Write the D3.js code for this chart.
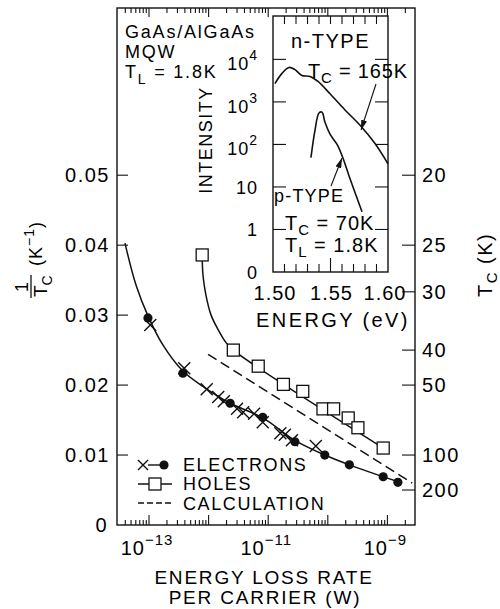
<!DOCTYPE html>
<html>
<head>
<meta charset="utf-8">
<script src="https://cdn.jsdelivr.net/npm/d3@7"></script>
<style>
  body { margin: 0; background: #fff; }
  text { font-family: "Liberation Sans", Arial, sans-serif; fill: #000; }
</style>
</head>
<body>
<div id="chart"></div>
<script>
// ---- data ----
// electrons: filled circles
var elecDotRate = [9.6e-14, 3.7e-13, 2.3e-12, 8.1e-12, 2.8e-11, 8.9e-11, 2.3e-10, 8.5e-10, 1.5e-9];
var elecDotInvT = [0.0296, 0.0217, 0.0174, 0.0154, 0.0119, 0.0100, 0.0086, 0.0069, 0.0061];
// electrons: crosses
var elecXRate = [1.05e-13, 3.9e-13, 9.3e-13, 1.45e-12, 1.8e-12, 3.0e-12, 3.8e-12, 5.8e-12, 8.1e-12, 1.6e-11, 1.9e-11, 2.5e-11, 6.3e-11];
var elecXInvT = [0.0286, 0.0224, 0.0194, 0.0183, 0.0177, 0.0166, 0.0161, 0.0159, 0.0147, 0.0131, 0.0129, 0.0121, 0.0113];
// electrons: fitted curve
var elecFitRate = [3.95e-14, 6.05e-14, 9.6e-14, 1.72e-13, 3.7e-13, 8.7e-13, 2.3e-12, 8.1e-12, 2.8e-11, 8.9e-11, 2.3e-10, 8.5e-10, 1.62e-9];
var elecFitInvT = [0.0403, 0.0343, 0.0299, 0.0257, 0.0220, 0.0196, 0.0174, 0.0153, 0.0121, 0.0100, 0.0086, 0.0069, 0.0061];
// holes: open squares
var holeRate = [7.8e-13, 2.6e-12, 6.8e-12, 1.8e-11, 3.8e-11, 8.3e-11, 1.25e-10, 2.2e-10, 3.2e-10, 8.5e-10];
var holeInvT = [0.0386, 0.0250, 0.0227, 0.0201, 0.0191, 0.0166, 0.0166, 0.0153, 0.0139, 0.0110];
// holes: fitted curve
var holeFitRate = [7.8e-13, 8.05e-13, 9.0e-13, 1.1e-12, 1.45e-12, 1.95e-12, 2.6e-12, 8.5e-10];
var holeFitInvT = [0.0386, 0.0357, 0.0329, 0.0300, 0.0279, 0.0261, 0.0250, 0.0110];
// calculation (dashed)
var calcRate = [9.8e-13, 2.6e-9];
var calcInvT = [0.0244, 0.0060];

// inset spectra
var nEnergy = [1.5017, 1.5078, 1.5139, 1.5191, 1.5252, 1.5322, 1.5391, 1.5496, 1.5626, 1.5757, 1.5887, 1.600];
var nIntensity = [2690, 4680, 6460, 5750, 4170, 3980, 3020, 1550, 646, 282, 105, 35];
var pEnergy = [1.533, 1.5365, 1.540, 1.5426, 1.5452, 1.5496, 1.5557, 1.560, 1.567, 1.5774];
var pIntensity = [49, 214, 550, 575, 331, 174, 100, 55, 15.5, 2.6];

// tick values
var invTTicks = [0, 0.01, 0.02, 0.03, 0.04, 0.05];
var invTLabels = ["0", "0.01", "0.02", "0.03", "0.04", "0.05"];
var tcTicks = [20, 25, 30, 40, 50, 100, 200];
var rateLabelDecades = [-13, -11, -9];
var insetDecades = [-1, 0, 1, 2, 3, 4];
var insetEnergyTicks = [1.50, 1.51, 1.52, 1.53, 1.54, 1.55, 1.56, 1.57, 1.58, 1.59, 1.60];
var insetEnergyLabels = ["1.50", "1.55", "1.60"];

// ---- layout ----
var svgWidth = 500;
var svgHeight = 609;
var plot = { left: 117, right: 415, top: 8, bottom: 525 };
var inset = { left: 273, right: 388, top: 16, bottom: 272 };

var svg = d3.select("#chart")
    .append("svg")
    .attr("width", svgWidth)
    .attr("height", svgHeight);

var xScale = d3.scaleLog()
    .domain([Math.pow(10, -13.537), Math.pow(10, -8.537)])
    .range([plot.left, plot.right]);
var yScale = d3.scaleLinear()
    .domain([0, 0.0739])
    .range([plot.bottom, plot.top]);

var ixScale = d3.scaleLinear()
    .domain([1.50, 1.60])
    .range([inset.left, inset.right]);
var iyScale = d3.scaleLog()
    .domain([0.1, Math.pow(10, 5.02)])
    .range([inset.bottom, inset.top]);

var ink = "#111";
var lw = 1.4;

// ---- main frame ----
svg.append("rect")
    .attr("x", plot.left).attr("y", plot.top)
    .attr("width", plot.right - plot.left).attr("height", plot.bottom - plot.top)
    .attr("fill", "none").attr("stroke", ink).attr("stroke-width", lw);

// log minor ticks, bottom (up) and top (down)
var logTicks = [];
for (var d = -14; d <= -9; d++) {
    for (var k = 1; k <= 9; k++) {
        var v = k * Math.pow(10, d);
        var px = xScale(v);
        if (px > plot.left + 1 && px < plot.right - 1) logTicks.push({ v: v, major: k === 1 });
    }
}
svg.append("g").selectAll("line.bt")
    .data(logTicks).enter().append("line")
    .attr("x1", t => xScale(t.v)).attr("x2", t => xScale(t.v))
    .attr("y1", plot.bottom).attr("y2", t => plot.bottom - (t.major ? 10 : 5))
    .attr("stroke", ink).attr("stroke-width", 1.1);
svg.append("g").selectAll("line.tt")
    .data(logTicks).enter().append("line")
    .attr("x1", t => xScale(t.v)).attr("x2", t => xScale(t.v))
    .attr("y1", plot.top).attr("y2", t => plot.top + (t.major ? 9 : 5))
    .attr("stroke", ink).attr("stroke-width", 1.1);

// bottom tick labels 10^-13 etc
rateLabelDecades.forEach(function(dec) {
    var t = svg.append("text")
        .attr("x", xScale(Math.pow(10, dec)) - 2)
        .attr("y", 555)
        .attr("text-anchor", "middle")
        .attr("font-size", 20)
        .attr("letter-spacing", 1);
    t.append("tspan").text("10");
    t.append("tspan").attr("dy", -10).attr("font-size", 15).text("\u2212" + (-dec));
});

// left axis ticks + labels
svg.append("g").selectAll("line")
    .data(invTTicks.slice(1)).enter().append("line")
    .attr("x1", plot.left).attr("x2", plot.left + 11)
    .attr("y1", d => yScale(d)).attr("y2", d => yScale(d))
    .attr("stroke", ink).attr("stroke-width", 1.1);
svg.append("g").selectAll("text")
    .data(invTTicks).enter().append("text")
    .attr("x", (d, i) => i === 0 ? 108 : 110)
    .attr("y", d => yScale(d) + 7)
    .attr("text-anchor", "end")
    .attr("font-size", 20)
    .attr("letter-spacing", 1.5)
    .text((d, i) => invTLabels[i]);

// right axis (Tc) ticks + labels
svg.append("g").selectAll("line")
    .data(tcTicks).enter().append("line")
    .attr("x1", plot.right).attr("x2", plot.right - 13)
    .attr("y1", d => yScale(1 / d)).attr("y2", d => yScale(1 / d))
    .attr("stroke", ink).attr("stroke-width", 1.1);
svg.append("g").selectAll("text")
    .data(tcTicks).enter().append("text")
    .attr("x", 422)
    .attr("y", d => yScale(1 / d) + 7)
    .attr("font-size", 20)
    .attr("letter-spacing", 1.5)
    .text(d => d);

// axis titles
var xt = svg.append("g").attr("font-size", 19).attr("letter-spacing", 1.8);
xt.append("text").attr("x", 264).attr("y", 584).attr("text-anchor", "middle").text("ENERGY LOSS RATE");
xt.append("text").attr("x", 265).attr("y", 604).attr("text-anchor", "middle").text("PER CARRIER (W)");

// left title: 1/Tc (K^-1), rotated
var lt = svg.append("g").attr("transform", "translate(35,260) rotate(-90)");
lt.append("text").attr("x", -27).attr("y", -7).attr("text-anchor", "middle").attr("font-size", 18).text("1");
lt.append("line").attr("x1", -38).attr("x2", -15).attr("y1", -4).attr("y2", -4)
    .attr("stroke", ink).attr("stroke-width", 1.3);
var ltT = lt.append("text").attr("x", -37).attr("y", 12).attr("font-size", 19);
ltT.append("tspan").text("T");
ltT.append("tspan").attr("dy", 5).attr("font-size", 14).text("C");
var ltK = lt.append("text").attr("x", -6).attr("y", 7).attr("font-size", 18).attr("letter-spacing", 1);
ltK.append("tspan").text("(K");
ltK.append("tspan").attr("dy", -8).attr("font-size", 14).text("\u22121");
ltK.append("tspan").attr("dy", 8).text(")");

// right title: Tc (K), rotated
var rt = svg.append("text")
    .attr("transform", "translate(492,297) rotate(-90)")
    .attr("font-size", 20)
    .attr("letter-spacing", 1.5);
rt.append("tspan").text("T");
rt.append("tspan").attr("dy", 5).attr("font-size", 15).text("C");
rt.append("tspan").attr("dy", -5).text(" (K)");

// top-left annotation
var ann = svg.append("g").attr("font-size", 18).attr("letter-spacing", 1.8);
ann.append("text").attr("x", 125).attr("y", 38).text("GaAs/AlGaAs");
ann.append("text").attr("x", 125).attr("y", 58).text("MQW");
var tl = ann.append("text").attr("x", 125).attr("y", 78);
tl.append("tspan").text("T");
tl.append("tspan").attr("dy", 6).attr("font-size", 14).text("L");
tl.append("tspan").attr("dy", -6).text(" = 1.8K");

// ---- data marks ----
var line = d3.line()
    .x(d => xScale(d[0]))
    .y(d => yScale(d[1]))
    .curve(d3.curveCatmullRom.alpha(0.5));

svg.append("path")
    .datum(d3.zip(elecFitRate, elecFitInvT))
    .attr("d", line)
    .attr("fill", "none").attr("stroke", ink).attr("stroke-width", 1.5);

svg.append("path")
    .datum(d3.zip(holeFitRate, holeFitInvT))
    .attr("d", line)
    .attr("fill", "none").attr("stroke", ink).attr("stroke-width", 1.5);

svg.append("path")
    .datum(d3.zip(calcRate, calcInvT))
    .attr("d", d3.line().x(d => xScale(d[0])).y(d => yScale(d[1])))
    .attr("fill", "none").attr("stroke", ink).attr("stroke-width", 1.5)
    .attr("stroke-dasharray", "10,5");

// crosses
var xs = 6;
svg.append("g").selectAll("path")
    .data(d3.zip(elecXRate, elecXInvT)).enter().append("path")
    .attr("d", d => {
        var cx = xScale(d[0]), cy = yScale(d[1]);
        return "M" + (cx - xs) + "," + (cy - xs) + "L" + (cx + xs) + "," + (cy + xs) +
               "M" + (cx + xs) + "," + (cy - xs) + "L" + (cx - xs) + "," + (cy + xs);
    })
    .attr("stroke", ink).attr("stroke-width", 1.4).attr("fill", "none");

// filled circles
svg.append("g").selectAll("circle")
    .data(d3.zip(elecDotRate, elecDotInvT)).enter().append("circle")
    .attr("cx", d => xScale(d[0])).attr("cy", d => yScale(d[1]))
    .attr("r", 4.6).attr("fill", ink);

// open squares
var sq = 12;
svg.append("g").selectAll("rect")
    .data(d3.zip(holeRate, holeInvT)).enter().append("rect")
    .attr("x", d => xScale(d[0]) - sq / 2).attr("y", d => yScale(d[1]) - sq / 2)
    .attr("width", sq).attr("height", sq)
    .attr("fill", "#fff").attr("stroke", ink).attr("stroke-width", 1.3);

// ---- legend ----
var lg = svg.append("g");
var lx0 = 138, lx1 = 172;
// electrons row
lg.append("path").attr("d", "M138,460L148,470M148,460L138,470")
    .attr("stroke", ink).attr("stroke-width", 1.4);
lg.append("line").attr("x1", 148).attr("x2", 160).attr("y1", 465).attr("y2", 465)
    .attr("stroke", ink).attr("stroke-width", 1.4);
lg.append("circle").attr("cx", 164).attr("cy", 465).attr("r", 4.6).attr("fill", ink);
// holes row
lg.append("line").attr("x1", lx0).attr("x2", lx1).attr("y1", 484).attr("y2", 484)
    .attr("stroke", ink).attr("stroke-width", 1.4);
lg.append("rect").attr("x", 155 - 6).attr("y", 484 - 6).attr("width", 12).attr("height", 12)
    .attr("fill", "#fff").attr("stroke", ink).attr("stroke-width", 1.3);
// calculation row
lg.append("line").attr("x1", lx0).attr("x2", lx1).attr("y1", 503).attr("y2", 503)
    .attr("stroke", ink).attr("stroke-width", 1.4).attr("stroke-dasharray", "6,3");
var lgt = lg.append("g").attr("font-size", 18).attr("letter-spacing", 1.6);
lgt.append("text").attr("x", 183).attr("y", 471).text("ELECTRONS");
lgt.append("text").attr("x", 183).attr("y", 490).text("HOLES");
lgt.append("text").attr("x", 183).attr("y", 510).text("CALCULATION");

// ---- inset ----
var ig = svg.append("g");
ig.append("rect")
    .attr("x", inset.left).attr("y", inset.top)
    .attr("width", inset.right - inset.left).attr("height", inset.bottom - inset.top)
    .attr("fill", "#fff").attr("stroke", ink).attr("stroke-width", lw);

// energy ticks top and bottom
ig.append("g").selectAll("line")
    .data(insetEnergyTicks.slice(1, -1)).enter().append("line")
    .attr("x1", d => ixScale(d)).attr("x2", d => ixScale(d))
    .attr("y1", inset.top).attr("y2", inset.top + 8)
    .attr("stroke", ink).attr("stroke-width", 1.1);
ig.append("g").selectAll("line")
    .data(insetEnergyTicks.slice(1, -1)).enter().append("line")
    .attr("x1", d => ixScale(d)).attr("x2", d => ixScale(d))
    .attr("y1", inset.bottom).attr("y2", d => inset.bottom - (Math.abs(d - 1.55) < 1e-6 ? 14 : 8))
    .attr("stroke", ink).attr("stroke-width", 1.1);

// intensity ticks left and right
var decTicks = insetDecades.slice(1);
ig.append("g").selectAll("line")
    .data(decTicks).enter().append("line")
    .attr("x1", inset.left).attr("x2", inset.left + 13)
    .attr("y1", d => iyScale(Math.pow(10, d))).attr("y2", d => iyScale(Math.pow(10, d)))
    .attr("stroke", ink).attr("stroke-width", 1.1);
ig.append("g").selectAll("line")
    .data(decTicks).enter().append("line")
    .attr("x1", inset.right).attr("x2", inset.right - 13)
    .attr("y1", d => iyScale(Math.pow(10, d))).attr("y2", d => iyScale(Math.pow(10, d)))
    .attr("stroke", ink).attr("stroke-width", 1.1);

// intensity labels
insetDecades.forEach(function(dec) {
    var t = ig.append("text")
        .attr("x", 258)
        .attr("y", iyScale(Math.pow(10, dec)) + (dec >= 2 ? 11 : 7))
        .attr("text-anchor", "end")
        .attr("font-size", 18)
        .attr("letter-spacing", 1);
    if (dec === -1) t.text("0");
    else if (dec === 0) t.text("1");
    else if (dec === 1) t.text("10");
    else {
        t.append("tspan").text("10");
        t.append("tspan").attr("dy", -10).attr("font-size", 14).text(dec);
    }
});

// energy labels
ig.append("g").selectAll("text")
    .data(insetEnergyLabels).enter().append("text")
    .attr("x", d => ixScale(+d) + (d === "1.50" ? 2 : d === "1.60" ? -3 : 1))
    .attr("y", 300)
    .attr("text-anchor", "middle")
    .attr("font-size", 20)
    .attr("letter-spacing", 1)
    .text(d => d);
ig.append("text").attr("x", 333).attr("y", 327).attr("text-anchor", "middle")
    .attr("font-size", 20).attr("letter-spacing", 2.4).text("ENERGY (eV)");
ig.append("text").attr("transform", "translate(212,140) rotate(-90)")
    .attr("text-anchor", "middle").attr("font-size", 18).attr("letter-spacing", 1.5)
    .text("INTENSITY");

// spectra
var sline = d3.line()
    .x(d => ixScale(d[0]))
    .y(d => iyScale(d[1]))
    .curve(d3.curveCatmullRom.alpha(0.5));
ig.append("path").datum(d3.zip(nEnergy, nIntensity)).attr("d", sline)
    .attr("fill", "none").attr("stroke", ink).attr("stroke-width", 1.6);
ig.append("path").datum(d3.zip(pEnergy, pIntensity)).attr("d", sline)
    .attr("fill", "none").attr("stroke", ink).attr("stroke-width", 1.6);

// inset text
ig.append("text").attr("x", 291).attr("y", 48).attr("font-size", 20).attr("letter-spacing", 1.5).text("n-TYPE");
var t165 = ig.append("text").attr("x", 308).attr("y", 78).attr("font-size", 20).attr("letter-spacing", 0.8);
t165.append("tspan").text("T");
t165.append("tspan").attr("dy", 5).attr("font-size", 15).text("C");
t165.append("tspan").attr("dy", -5).text(" = 165K");
ig.append("text").attr("x", 274).attr("y", 202).attr("font-size", 18).attr("letter-spacing", 1.2).text("p-TYPE");
var t70 = ig.append("text").attr("x", 285).attr("y", 230).attr("font-size", 20).attr("letter-spacing", 1);
t70.append("tspan").text("T");
t70.append("tspan").attr("dy", 5).attr("font-size", 15).text("C");
t70.append("tspan").attr("dy", -5).text(" = 70K");
var tl2 = ig.append("text").attr("x", 285).attr("y", 252).attr("font-size", 20).attr("letter-spacing", 1);
tl2.append("tspan").text("T");
tl2.append("tspan").attr("dy", 5).attr("font-size", 15).text("L");
tl2.append("tspan").attr("dy", -5).text(" = 1.8K");

// arrows
svg.append("defs").append("marker")
    .attr("id", "head").attr("viewBox", "0 0 10 6")
    .attr("refX", 10).attr("refY", 3)
    .attr("markerWidth", 10).attr("markerHeight", 6)
    .attr("markerUnits", "userSpaceOnUse")
    .attr("orient", "auto")
    .append("path").attr("d", "M0,0L10,3L0,6Z").attr("fill", ink);
ig.append("line").attr("x1", 376).attr("y1", 84).attr("x2", 361).attr("y2", 130)
    .attr("stroke", ink).attr("stroke-width", 1.1).attr("marker-end", "url(#head)");
ig.append("line").attr("x1", 331).attr("y1", 186).attr("x2", 342).attr("y2", 158)
    .attr("stroke", ink).attr("stroke-width", 1.1).attr("marker-end", "url(#head)");
</script>
</body>
</html>
